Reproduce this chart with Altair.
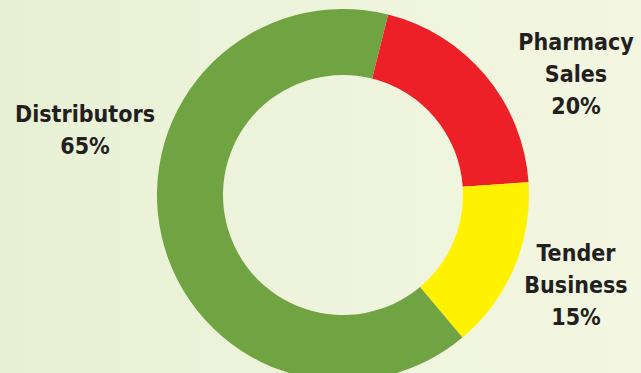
import altair as alt
import pandas as pd

categories = ["Pharmacy Sales", "Tender Business", "Distributors"]
shares = [20, 15, 65]
colors = ["#ed1f27", "#fff200", "#70a342"]
label_lines = [["Pharmacy", "Sales", "20%"], ["Tender", "Business", "15%"], ["Distributors", "65%"]]

W, H = 641, 373
CX, CY = 343, 195
R_OUT, R_IN = 186, 120
START = 0.245  # radians clockwise from 12 o'clock

df = pd.DataFrame({"category": categories, "share": shares, "order": list(range(len(categories)))})

# label anchor positions (pixel layout)
anchors = {"Pharmacy Sales": (576, 43), "Tender Business": (576, 254), "Distributors": (85, 115)}
LINE = 32
rows = []
for cat, lines in zip(categories, label_lines):
    ax, ay = anchors[cat]
    for i, t in enumerate(lines):
        rows.append({"text": t, "px": ax, "py": ay + i * LINE})
lab = pd.DataFrame(rows)

bg = alt.Chart(pd.DataFrame({"a": [0]})).mark_rect(
    color=alt.Gradient(
        gradient="linear",
        stops=[alt.GradientStop(color="#e7f0d4", offset=0),
               alt.GradientStop(color="#eef4dc", offset=0.5),
               alt.GradientStop(color="#f3f6e0", offset=1)],
        x1=0, x2=1, y1=0, y2=0,
    )
).encode(x=alt.value(0), x2=alt.value(W), y=alt.value(0), y2=alt.value(H))

arc = alt.Chart(df).mark_arc(outerRadius=R_OUT, innerRadius=R_IN, stroke=None).encode(
    theta=alt.Theta("share:Q", stack=True, scale=alt.Scale(range=[START, START + 6.283185307])),
    color=alt.Color("category:N", scale=alt.Scale(domain=categories, range=colors), legend=None),
    order=alt.Order("order:Q"),
    x=alt.value(CX),
    y=alt.value(CY),
)

text = alt.Chart(lab).mark_text(
    font="Liberation Sans Narrow, DejaVu Sans Condensed, sans-serif",
    fontWeight="bold", fontSize=23, color="#231f20", baseline="middle", align="center",
).encode(
    text="text:N",
    x=alt.X("px:Q", scale=alt.Scale(domain=[0, W], range=[0, W]), axis=None),
    y=alt.Y("py:Q", scale=alt.Scale(domain=[0, H], range=[0, H]), axis=None),
)

chart = alt.layer(bg, arc, text).properties(
    width=W, height=H, padding=0, autosize=alt.AutoSizeParams(type="none"),
    background="#edf3da",
).configure_view(strokeWidth=0).resolve_scale(theta="independent")

chart.save("out.html", embed_options={"renderer": "svg", "actions": False})
